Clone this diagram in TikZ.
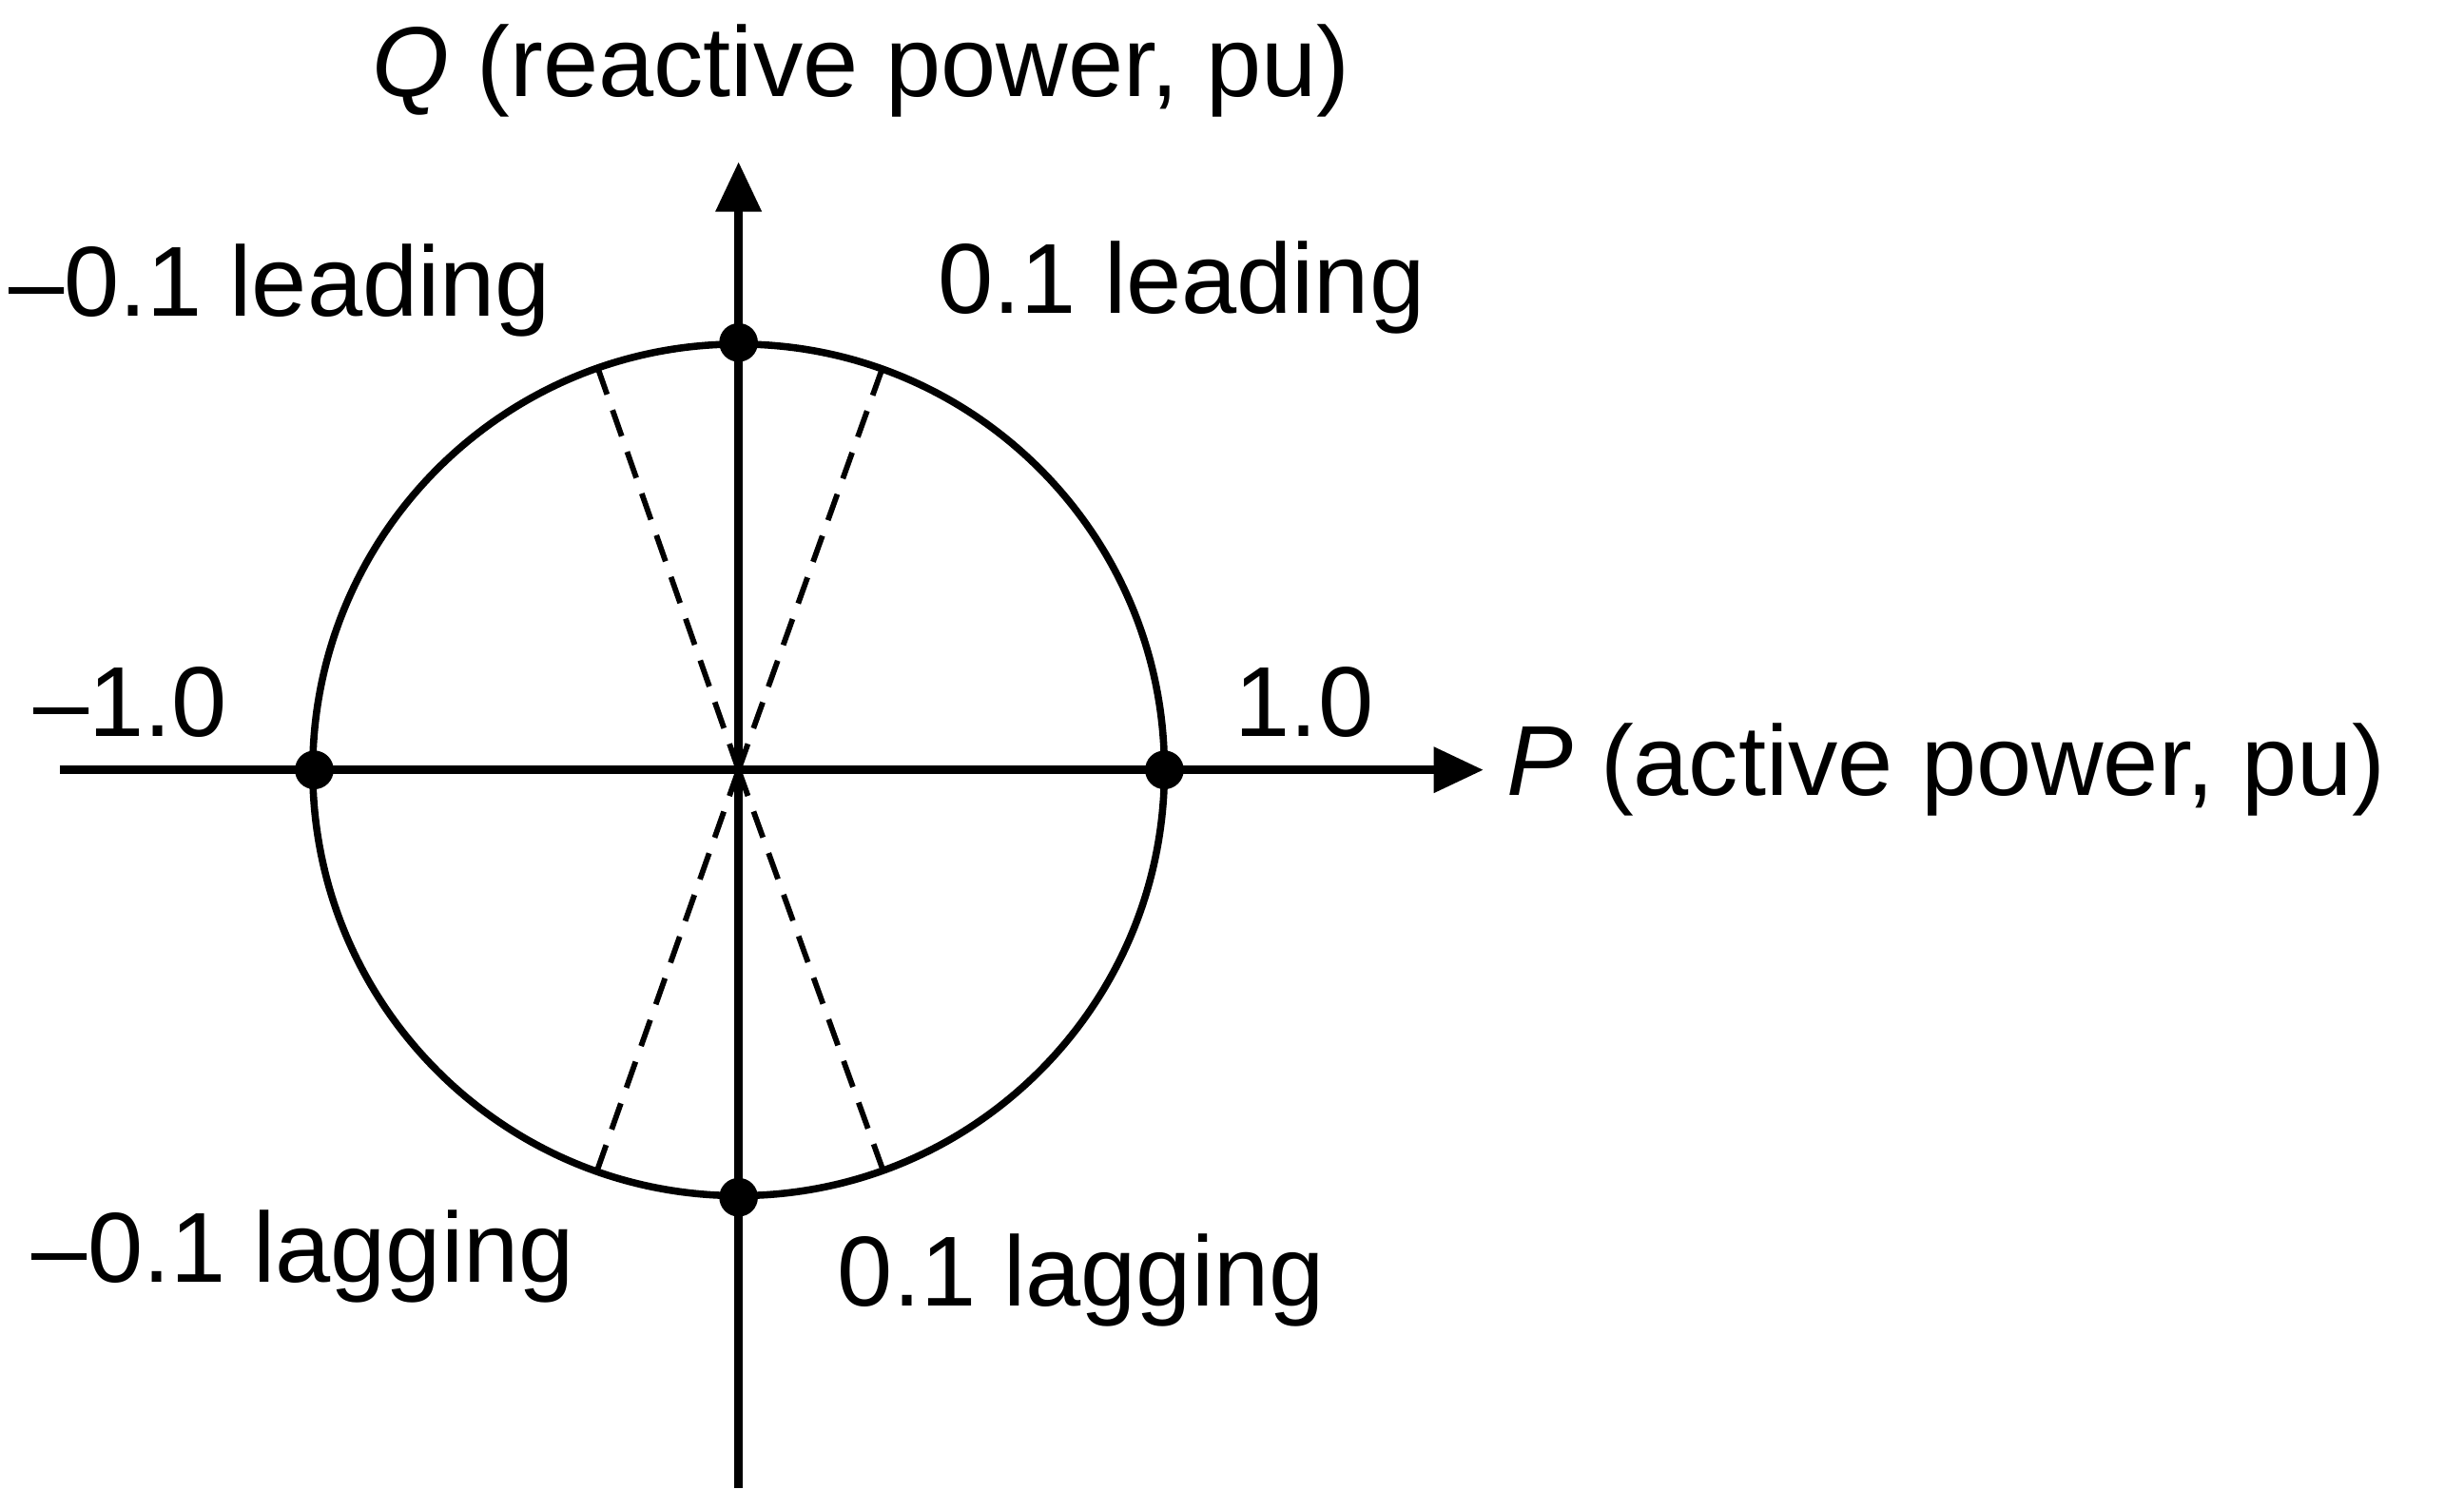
\documentclass[tikz,border=0pt]{standalone}
\usepackage{fontspec}
\setmainfont{Liberation Sans}
\usetikzlibrary{arrows.meta}
\begin{document}
\begin{tikzpicture}[x=0.01cm,y=-0.01cm,
  axis/.style={line width=1.5pt,-{Triangle[length=9pt,width=8pt]}},
  lbl/.style={font=\fontsize{18}{21}\selectfont,inner sep=0pt},
  dot/.style={circle,fill=black,inner sep=0pt,minimum size=7pt}]
\useasboundingbox (0,0) rectangle (1568,960);
\coordinate (O) at (470,490);
\coordinate (L) at (38,490);
\coordinate (R) at (944,490);
\coordinate (B) at (470,947);
\coordinate (T) at (470,103);
\draw[line width=1.3pt] (O) circle[radius=271];
\foreach \p in {(380,233),(562,233),(380,745),(562,745)}
  \draw[line width=1pt,dash pattern=on 5pt off 3pt] (O) -- \p;
\draw[axis] (L) -- (R);
\draw[axis] (B) -- (T);
\node[dot] (d1) at (741,490) {};
\node[dot] (d2) at (200,490) {};
\node[dot] (d3) at (470,218) {};
\node[dot] (d4) at (470,762) {};
\node[lbl] (q) at (548,45) {\textit{Q} (reactive power, pu)};
\node[lbl,anchor=west] (p) at (958,490) {\textit{P} (active power, pu)};
\node[lbl] at (178,185) {–0.1 leading};
\node[lbl] at (752,183) {0.1 leading};
\node[lbl] at (83,447) {–1.0};
\node[lbl] at (830,447) {1.0};
\node[lbl] at (193,800) {–0.1 lagging};
\node[lbl] at (688,815) {0.1 lagging};
\end{tikzpicture}
\end{document}
